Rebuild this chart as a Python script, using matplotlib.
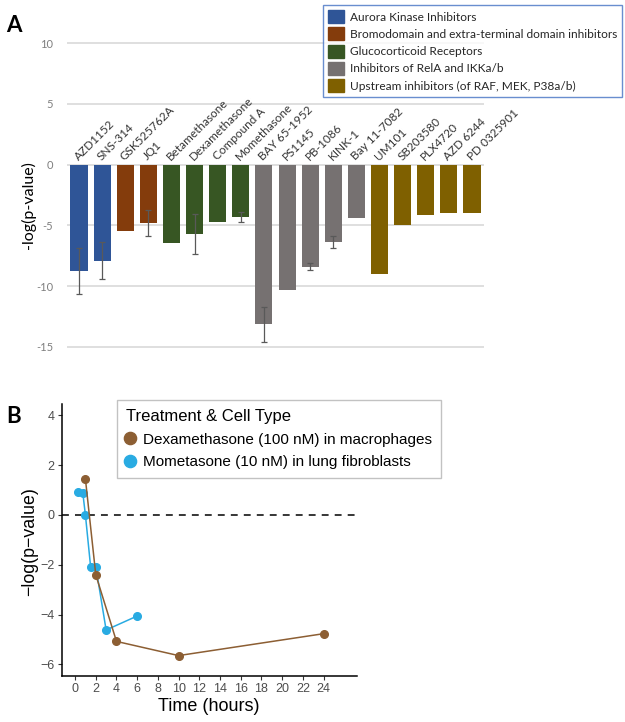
import matplotlib
matplotlib.use("Agg")
import matplotlib.pyplot as plt
from matplotlib.patches import Patch
import numpy as np

# ---------------- Panel A data ----------------
drugs = ["AZD1152", "SNS-314", "GSK525762A", "JQ1", "Betamethasone", "Dexamethasone",
         "Compound A", "Momethasone", "BAY 65-1952", "PS1145", "PB-1086", "KINK-1",
         "Bay 11-7082", "UM101", "SB203580", "PLX4720", "AZD 6244", "PD 0325901"]
groups = ["Aurora Kinase Inhibitors", "Aurora Kinase Inhibitors",
          "Bromodomain and extra-terminal domain inhibitors", "Bromodomain and extra-terminal domain inhibitors",
          "Glucocorticoid Receptors", "Glucocorticoid Receptors", "Glucocorticoid Receptors", "Glucocorticoid Receptors",
          "Inhibitors of RelA and IKKa/b", "Inhibitors of RelA and IKKa/b", "Inhibitors of RelA and IKKa/b",
          "Inhibitors of RelA and IKKa/b", "Inhibitors of RelA and IKKa/b",
          "Upstream inhibitors (of RAF, MEK, P38a/b)", "Upstream inhibitors (of RAF, MEK, P38a/b)",
          "Upstream inhibitors (of RAF, MEK, P38a/b)", "Upstream inhibitors (of RAF, MEK, P38a/b)",
          "Upstream inhibitors (of RAF, MEK, P38a/b)"]
values = [-8.8, -7.9, -5.45, -4.82, -6.44, -5.73, -4.74, -4.3, -13.17, -10.33,
          -8.41, -6.35, -4.38, -9.04, -5.01, -4.16, -3.97, -3.97]
errors = [1.9, 1.5, 0, 1.1, 0, 1.65, 0, 0.4, 1.45, 0, 0.27, 0.5, 0, 0, 0, 0, 0, 0]
group_names = ["Aurora Kinase Inhibitors", "Bromodomain and extra-terminal domain inhibitors",
               "Glucocorticoid Receptors", "Inhibitors of RelA and IKKa/b",
               "Upstream inhibitors (of RAF, MEK, P38a/b)"]
group_colors = ["#2F5597", "#843C0C", "#375623", "#767171", "#7F6000"]
yticks_a = [10, 5, 0, -5, -10, -15]

# ---------------- Panel B data ----------------
dex_time = [1, 2, 4, 10, 24]
dex_val = [1.45, -2.4, -5.08, -5.65, -4.77]
mom_time = [0.25, 0.75, 1, 1.5, 2, 3, 6]
mom_val = [0.92, 0.88, 0.0, -2.07, -2.07, -4.62, -4.06]
xticks_b = list(range(0, 25, 2))
yticks_b = [4, 2, 0, -2, -4, -6]

W, H = 625, 722
fig = plt.figure(figsize=(W / 100, H / 100), dpi=100)

def fx(px):
    return px / W

def fy(py):
    return 1 - py / H

# ---------------- Panel A ----------------
fontA = ["Lato", "DejaVu Sans"]
axA = fig.add_axes([fx(67), fy(349.1), fx(484 - 67), fy(40.9) - fy(349.1)])
x = np.arange(len(drugs))
cmap = dict(zip(group_names, group_colors))
cols = [cmap[g] for g in groups]
axA.bar(x, values, width=0.74, color=cols, zorder=2)
for xi, v, e in zip(x, values, errors):
    if e > 0:
        axA.errorbar(xi, v, yerr=e, fmt="none", ecolor="#595959", elinewidth=0.9,
                     capsize=2.5, capthick=0.9, zorder=3)
axA.set_xlim(-0.52, len(drugs) - 0.48)
axA.set_ylim(-15.2, 10.2)
axA.set_yticks(yticks_a)
axA.set_yticklabels([str(t) for t in yticks_a], fontfamily=fontA, fontsize=8, color="#7F7F7F")
axA.tick_params(axis="y", length=0, pad=10)
axA.set_xticks([])
for s in axA.spines.values():
    s.set_visible(False)
for t in yticks_a:
    axA.axhline(t, color="#D9D9D9", lw=1.2, zorder=0)
for xi, name in zip(x, drugs):
    axA.text(xi - 0.02, 0.33, name, rotation=45, rotation_mode="anchor", ha="left", va="baseline",
             fontsize=8.5, fontfamily=fontA, color="#333333")
fig.text(fx(28), fy(205), "-log(p-value)", rotation=90, ha="center", va="center",
         fontsize=11.5, fontfamily=fontA, color="#000000")
fig.text(fx(6), fy(25), "A", fontsize=16, fontweight="bold", fontfamily=fontA, ha="left", va="center")

handlesA = [Patch(facecolor=c, edgecolor=c, label=g) for g, c in zip(group_names, group_colors)]
legA = fig.legend(handles=handlesA, loc="upper left", bbox_to_anchor=(fx(323), fy(5)),
                  frameon=True, fancybox=False, prop={"family": fontA, "size": 8.6},
                  handlelength=1.3, handleheight=1.3, handletextpad=0.5, labelspacing=0.36,
                  borderpad=0.42, borderaxespad=0)
legA.get_frame().set_edgecolor("#4472C4")
legA.get_frame().set_linewidth(1.0)
for t in legA.get_texts():
    t.set_color("#262626")

# ---------------- Panel B ----------------
fontB = ["Liberation Sans", "DejaVu Sans"]
axB = fig.add_axes([fx(61.7), fy(676), fx(356.7 - 61.7), fy(404) - fy(676)])
dex_color = "#8C5E33"
mom_color = "#29ABE2"
axB.axhline(0, color="black", lw=1.1, ls=(0, (4.5, 4)), zorder=1)
axB.plot(dex_time, dex_val, color=dex_color, lw=1.1, marker="o", ms=5.5, zorder=3,
         label="Dexamethasone (100 nM) in macrophages")
axB.plot(mom_time, mom_val, color=mom_color, lw=1.1, marker="o", ms=5.5, zorder=2,
         label="Mometasone (10 nM) in lung fibroblasts")
axB.set_xlim(-1.29, 27.2)
axB.set_ylim(-6.47, 4.46)
axB.set_xticks(xticks_b)
axB.set_yticks(yticks_b)
axB.set_xticklabels([str(t) for t in xticks_b], fontfamily=fontB, fontsize=9, color="#4D4D4D")
axB.set_yticklabels([str(t).replace("-", "\u2212") for t in yticks_b], fontfamily=fontB,
                    fontsize=9, color="#4D4D4D")
axB.tick_params(axis="both", length=3, width=0.8, color="#333333", pad=2)
for s in ["top", "right"]:
    axB.spines[s].set_visible(False)
for s in ["left", "bottom"]:
    axB.spines[s].set_linewidth(1.1)
axB.set_xlabel("Time (hours)", fontfamily=fontB, fontsize=13, labelpad=2)
fig.text(fx(30), fy(542), "\u2212log(p\u2212value)", rotation=90, ha="center", va="center",
         fontfamily=fontB, fontsize=12.8)
fig.text(fx(6), fy(416), "B", fontsize=16, fontweight="bold", fontfamily=fontA, ha="left", va="center")

legB = axB.legend(loc="upper left", bbox_to_anchor=(fx(116.7), fy(400)), bbox_transform=fig.transFigure,
                  title="Treatment & Cell Type", frameon=True, fancybox=False,
                  prop={"family": fontB, "size": 11}, title_fontproperties={"family": fontB, "size": 12},
                  handlelength=0.6, handletextpad=0.5, labelspacing=0.55, borderpad=0.6,
                  borderaxespad=0, markerscale=1.6)
for h in legB.legend_handles:
    h.set_linestyle("none")
legB._legend_box.align = "left"
legB.get_frame().set_edgecolor("#B3B3B3")
legB.get_frame().set_linewidth(1.0)

fig.savefig("out.png", dpi=100)
